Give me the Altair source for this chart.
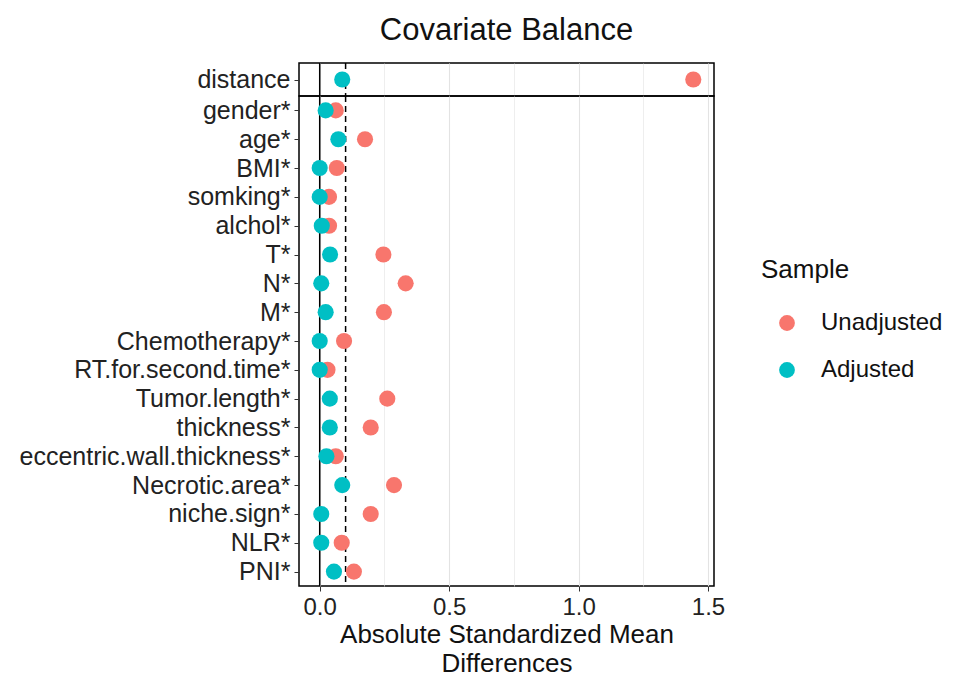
import altair as alt
import pandas as pd

variables = ["distance", "gender*", "age*", "BMI*", "somking*", "alchol*", "T*", "N*", "M*",
             "Chemotherapy*", "RT.for.second.time*", "Tumor.length*", "thickness*",
             "eccentric.wall.thickness*", "Necrotic.area*", "niche.sign*", "NLR*", "PNI*"]
unadjusted = [1.443, 0.062, 0.175, 0.066, 0.036, 0.036, 0.246, 0.332, 0.248,
              0.094, 0.030, 0.261, 0.197, 0.062, 0.287, 0.197, 0.085, 0.132]
adjusted = [0.087, 0.023, 0.072, 0.000, 0.000, 0.008, 0.040, 0.006, 0.023,
            0.000, 0.000, 0.039, 0.039, 0.026, 0.087, 0.006, 0.006, 0.055]
samples = ["Unadjusted", "Adjusted"]
colors = ["#F8766D", "#00BFC4"]
x_ticks = [0, 0.25, 0.5, 0.75, 1.0, 1.25, 1.5]
zero_line = [0.0]
threshold_line = [0.1]

rows = []
for s, vals in zip(samples, [unadjusted, adjusted]):
    for v, val in zip(variables, vals):
        rows.append({"variable": v, "value": val, "Sample": s,
                     "panel": "top" if v == "distance" else "bottom"})
df = pd.DataFrame(rows)

xscale = alt.Scale(domain=[-0.08, 1.523], nice=False, zero=False)
minor_test = "datum.value % 0.5 !== 0"
grid_width = {"condition": {"test": minor_test, "value": 0.6}, "value": 1.1}

def panel(name, height, show_axis, title=None):
    sub = df[df["panel"] == name]
    cats = [v for v in variables if v in set(sub["variable"])]
    if show_axis:
        xaxis = alt.Axis(values=x_ticks, title=["Absolute Standardized Mean", "Differences"],
                         labelExpr="datum.value % 0.5 === 0 ? format(datum.value, '.1f') : ''",
                         labelFontSize=24, labelColor="#222222", labelPadding=4,
                         tickOpacity={"condition": {"test": minor_test, "value": 0}, "value": 1},
                         tickColor="#333333", tickSize=5,
                         gridWidth=grid_width, gridColor="#E3E3E3", domain=False,
                         titleFontSize=26, titleFontWeight="normal", titleColor="#111111",
                         titleLineHeight=29, titlePadding=2)
    else:
        xaxis = alt.Axis(values=x_ticks, title=None, labels=False, ticks=False, domain=False,
                         gridWidth=grid_width, gridColor="#E3E3E3",
                         labelPadding=0, tickSize=0, minExtent=0, maxExtent=0)
    yaxis = alt.Axis(title=None, labelFontSize=25, labelColor="#222222", tickColor="#333333",
                     tickSize=5, labelPadding=4, labelLimit=0, domain=False,
                     gridColor="#E3E3E3", gridWidth=1.1)
    yenc = alt.Y("variable:N", sort=cats, axis=yaxis, scale=alt.Scale(domain=cats))

    pts = alt.Chart(sub).mark_circle(size=260, opacity=1).encode(
        x=alt.X("value:Q", scale=xscale, axis=xaxis),
        y=yenc,
        color=alt.Color("Sample:N", scale=alt.Scale(domain=samples, range=colors),
                        sort=samples,
                        legend=alt.Legend(title="Sample", orient="none", legendX=462, legendY=194,
                                          titleFontSize=26, titleFontWeight="normal",
                                          titleColor="#111111", labelFontSize=24,
                                          labelColor="#111111", symbolSize=250,
                                          symbolType="circle", rowPadding=23,
                                          titlePadding=28, labelOffset=22, symbolOffset=14)),
        order=alt.Order("order:Q"),
    ).transform_calculate(order="datum.Sample === 'Unadjusted' ? 0 : 1")

    zero = alt.Chart(pd.DataFrame({"x": zero_line})).mark_rule(color="black", strokeWidth=1.5).encode(
        x=alt.X("x:Q", scale=xscale))
    thr = alt.Chart(pd.DataFrame({"x": threshold_line})).mark_rule(
        color="black", strokeWidth=1.5, strokeDash=[6, 4]).encode(x=alt.X("x:Q", scale=xscale))

    props = dict(width=415, height=height)
    if title is not None:
        props["title"] = alt.TitleParams(title, fontSize=31, fontWeight="normal", anchor="middle",
                                         frame="group", color="#111111", offset=15)
    return alt.layer(zero, thr, pts).properties(**props)

top = panel("top", 33, False, title="Covariate Balance")
bottom = panel("bottom", 490, True)

chart = alt.vconcat(top, bottom, spacing=0, bounds="flush").resolve_scale(x="shared").properties(
    padding={"left": 10, "top": 6, "right": 0, "bottom": 0}
).configure(font="Liberation Sans").configure_view(stroke="black", strokeWidth=1.5)

chart.save("out.html", embed_options={"renderer": "svg", "actions": False})
